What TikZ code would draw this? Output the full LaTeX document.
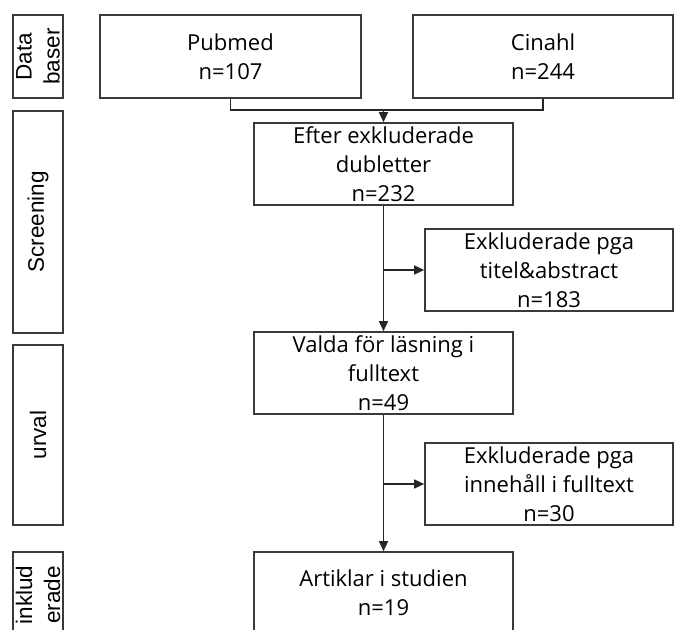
\documentclass[tikz,border=0pt]{standalone}
\usepackage{fontspec}
\setmainfont{Open Sans}
\newfontfamily\arialf{Liberation Sans}
\usetikzlibrary{arrows.meta}
\definecolor{lineg}{HTML}{3A3A3A}
\begin{document}
\begin{tikzpicture}[x=1pt,y=-1pt,
  box/.style={draw=lineg, line width=1.6pt, align=center, inner sep=0pt, fill=white,
    font=\fontsize{22}{29}\selectfont},
  side/.style={draw=lineg, line width=1.6pt, align=center, inner sep=0pt, rotate=90,
    minimum height=50pt, font=\arialf\fontsize{22.5}{28}\selectfont},
  conn/.style={draw=black!85, line width=1.3pt},
  arr/.style={conn, -{Triangle[length=10pt,width=9pt]}}]
\useasboundingbox (0,0) rectangle (681,630);
\fill[white] (0,0) rectangle (681,630);
% side labels
\node[side, minimum width=83pt] (sdat) at (38,56.5) {Data\\baser};
\node[side, minimum width=222pt] (sscr) at (38,222) {Screening};
\node[side, minimum width=180pt] (surv) at (38,435) {urval};
\node[side, minimum width=86pt] (sink) at (38,595) {inklud\\erade};
% boxes
\node[box, minimum width=261pt, minimum height=83pt] (pub) at (230.5,56.5) {Pubmed\\n=107};
\node[box, minimum width=260pt, minimum height=83pt] (cin) at (543,56.5) {Cinahl\\n=244};
\node[box, minimum width=259pt, minimum height=82pt] (eft) at (383.5,164) {Efter exkluderade\\dubletter\\n=232};
\node[box, minimum width=248pt, minimum height=82pt] (ex1) at (549,270) {Exkluderade pga\\titel\&abstract\\n=183};
\node[box, minimum width=259pt, minimum height=82pt] (val) at (383.5,373) {Valda för läsning i\\fulltext\\n=49};
\node[box, minimum width=248pt, minimum height=82pt] (ex2) at (549,484) {Exkluderade pga\\innehåll i fulltext\\n=30};
\node[box, minimum width=259pt, minimum height=82pt] (art) at (383.5,593) {Artiklar i studien\\n=19};
% connectors
\coordinate (j) at (383.5,110);
\draw[conn] (pub.south) |- (j);
\draw[conn] (cin.south) |- (j);
\draw[arr] (j) -- (eft.north);
\draw[arr] (eft.south) -- (val.north);
\coordinate (b1) at (eft.south |- ex1.west);
\draw[arr] (b1) -- (ex1.west);
\draw[arr] (val.south) -- (art.north);
\coordinate (b2) at (val.south |- ex2.west);
\draw[arr] (b2) -- (ex2.west);
\end{tikzpicture}
\end{document}
